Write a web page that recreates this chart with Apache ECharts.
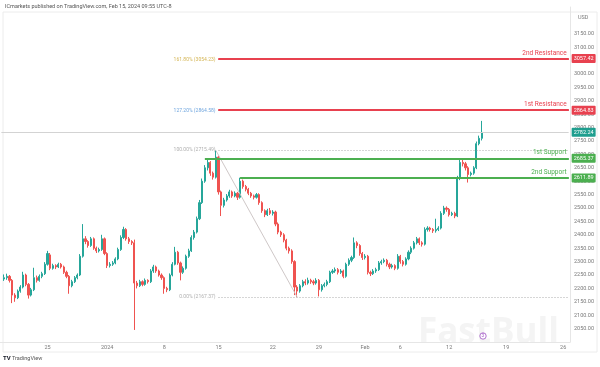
<!DOCTYPE html>
<html><head><meta charset="utf-8">
<script src="https://cdn.jsdelivr.net/npm/echarts@6/dist/echarts.min.js"></script>
<style>html,body{margin:0;padding:0;background:#fff}#c{width:600px;height:367px}</style>
</head><body><div id="c"></div>
<script>
const barCount = 210;
const firstBar = 1;
const opens = [
2235,2240,2245,2230,2175,2165,2190,2205,2250,2215,
2175,2195,2240,2230,2245,2255,2290,2325,2275,2285,
2280,2290,2280,2260,2245,2210,2225,2240,2250,2320,
2385,2375,2360,2385,2350,2340,2345,2385,2330,2285,
2290,2295,2310,2345,2390,2420,2385,2375,2370,2220,
2210,2225,2215,2230,2225,2265,2280,2265,2250,2240,
2200,2195,2250,2290,2335,2295,2260,2275,2320,2340,
2390,2410,2460,2520,2600,2650,2670,2630,2615,2690,
2560,2510,2530,2545,2560,2545,2555,2540,2600,2580,
2570,2555,2545,2540,2550,2520,2490,2475,2490,2480,
2485,2440,2410,2400,2380,2350,2340,2300,2205,2190,
2210,2225,2220,2230,2225,2220,2230,2195,2210,2215,
2225,2260,2265,2270,2260,2265,2245,2290,2305,2315,
2370,2360,2330,2315,2320,2260,2255,2265,2270,2295,
2300,2305,2290,2280,2285,2275,2320,2300,2290,2310,
2335,2350,2370,2385,2370,2365,2420,2425,2420,2415,
2420,2425,2480,2500,2495,2475,2480,2470,2610,2670,
2665,2650,2625,2630,2650,2740,2760];
const closes = [
2240,2245,2230,2175,2165,2190,2205,2250,2215,2175,
2195,2240,2230,2245,2255,2290,2330,2275,2285,2280,
2290,2280,2260,2245,2210,2225,2240,2250,2320,2385,
2375,2360,2385,2350,2340,2345,2385,2330,2285,2290,
2295,2310,2345,2390,2420,2385,2375,2370,2220,2210,
2225,2215,2230,2225,2265,2280,2265,2250,2240,2200,
2195,2250,2290,2335,2295,2260,2275,2320,2340,2390,
2410,2460,2520,2600,2650,2670,2630,2615,2690,2560,
2510,2530,2545,2560,2545,2555,2540,2600,2580,2570,
2555,2545,2540,2550,2520,2490,2475,2490,2480,2485,
2440,2410,2400,2380,2350,2340,2300,2205,2190,2210,
2225,2220,2230,2225,2220,2230,2195,2210,2215,2225,
2260,2265,2270,2260,2265,2245,2290,2305,2315,2370,
2360,2330,2315,2320,2260,2255,2265,2270,2295,2300,
2305,2290,2280,2285,2275,2320,2300,2290,2310,2335,
2350,2370,2385,2370,2365,2420,2425,2420,2415,2420,
2425,2480,2500,2495,2475,2480,2470,2610,2670,2665,
2650,2625,2630,2650,2740,2760,2782.24];
const lows = [
2228,2232,2222,2145,2150,2160,2184,2200,2208,2162,
2170,2190,2222,2225,2238,2250,2285,2268,2270,2272,
2276,2274,2254,2238,2180,2204,2220,2234,2246,2315,
2365,2352,2355,2344,2332,2334,2340,2324,2276,2278,
2284,2290,2305,2340,2384,2378,2366,2362,2045,2200,
2205,2208,2210,2218,2220,2258,2258,2244,2232,2180,
2186,2190,2245,2286,2288,2230,2254,2270,2314,2336,
2382,2405,2455,2515,2594,2640,2620,2606,2610,2550,
2470,2502,2524,2538,2538,2540,2530,2535,2572,2562,
2548,2538,2532,2535,2512,2482,2466,2470,2474,2472,
2432,2402,2392,2372,2342,2330,2292,2175,2167.37,2184,
2204,2212,2214,2217,2212,2214,2170,2188,2204,2208,
2220,2254,2258,2252,2254,2238,2240,2284,2298,2310,
2350,2322,2306,2308,2252,2246,2250,2258,2265,2288,
2294,2282,2272,2274,2268,2270,2292,2282,2285,2305,
2328,2345,2364,2362,2356,2360,2412,2412,2407,2408,
2414,2420,2474,2486,2468,2470,2462,2466,2604,2655,
2640,2595,2618,2624,2645,2734,2752];
const highs = [
2252,2255,2250,2235,2182,2196,2212,2262,2255,2220,
2202,2277,2248,2252,2262,2298,2340,2332,2292,2290,
2296,2295,2285,2266,2250,2232,2246,2256,2328,2440,
2395,2380,2392,2390,2356,2352,2400,2390,2335,2298,
2302,2316,2352,2398,2430,2425,2392,2380,2382,2228,
2232,2230,2237,2234,2272,2288,2285,2270,2256,2245,
2206,2256,2298,2355,2340,2300,2282,2326,2348,2398,
2418,2468,2530,2610,2660,2685,2675,2636,2715,2695,
2565,2538,2552,2568,2565,2562,2560,2613,2606,2586,
2575,2560,2550,2556,2555,2525,2495,2497,2500,2492,
2490,2446,2415,2406,2385,2356,2346,2305,2212,2216,
2232,2234,2240,2236,2232,2238,2235,2216,2222,2232,
2266,2272,2278,2276,2272,2270,2296,2312,2322,2390,
2376,2365,2336,2328,2325,2266,2272,2277,2302,2307,
2312,2310,2296,2292,2290,2328,2325,2306,2316,2342,
2357,2377,2392,2390,2376,2428,2432,2430,2425,2460,
2432,2488,2508,2506,2500,2486,2486,2620,2680,2682,
2672,2656,2636,2656,2748,2770,2825];

const xLabelIdx = [17, 39, 60, 80, 100, 117, 134, 147, 165, 186, 207];
const xLabelText = ['25', '2024', '8', '15', '22', '29', 'Feb', '6', '12', '19', '26'];

const resistanceNames = ['2nd Resistance', '1st Resistance'];
const resistanceValues = [3057.42, 2864.83];
const resistanceStart = [80, 80];
const supportNames = ['1st Support', '2nd Support'];
const supportValues = [2685.37, 2611.89];
const supportStart = [75, 88];
const fibRatios = ['161.80%', '127.20%', '100.00%', '0.00%'];
const fibValues = [3054.23, 2864.58, 2715.49, 2167.37];
const fibStart = 80;
const fibAnchorIdx = [79, 109];
const lastPrice = 2782.24;
const yTickMin = 2050, yTickMax = 3150;

const FONT = 'Roboto, "Open Sans", sans-serif';
const RED = '#e8414f', GREEN = '#4caf50', TEAL = '#1f9e8e';
const fibColors = ['#c9a32b', '#4a8fd6', '#9a9a9a', '#9a9a9a'];

const categories = Array.from({length: barCount}, (_, i) => String(i));
const candleData = categories.map((_, i) => {
  const k = i - firstBar;
  if (k < 0 || k >= opens.length) return '-';
  return [opens[k], closes[k], lows[k], highs[k]];
});
const lastIdx = barCount - 1;

const tag = (bg) => ({show: true, position: 'end', distance: 3, backgroundColor: bg, color: '#fff',
  fontSize: 5.5, fontFamily: FONT, padding: [2, 2, 1, 2], borderRadius: 1});

const ml = [];
ml.push([{coord: [0, lastPrice], lineStyle: {color: '#d3d3d3', width: 1, type: 'solid'},
  label: Object.assign(tag(TEAL), {formatter: lastPrice.toFixed(2)})}, {coord: [lastIdx, lastPrice]}]);
fibValues.forEach((v, j) => {
  ml.push([{coord: [fibStart, v], lineStyle: {color: fibColors[j], width: 1, type: j >= 2 ? [1, 2] : 'solid', opacity: 0.8},
    label: {show: true, position: 'start', distance: 3, formatter: fibRatios[j] + ' (' + v.toFixed(2) + ')',
      color: fibColors[j], fontSize: 5, fontFamily: FONT}}, {coord: [lastIdx, v]}]);
});
ml.push([{coord: [fibAnchorIdx[0], fibValues[2]], lineStyle: {color: '#cfc8c8', width: 1, type: 'solid'}, label: {show: false}},
  {coord: [fibAnchorIdx[1], fibValues[3]]}]);
resistanceValues.forEach((v, j) => {
  ml.push([{coord: [resistanceStart[j], v], lineStyle: {color: RED, width: 2, type: 'solid'},
    label: Object.assign(tag(RED), {formatter: v.toFixed(2)})}, {coord: [lastIdx, v]}]);
  ml.push([{coord: [resistanceStart[j], v], lineStyle: {color: RED, width: 2, type: 'solid'},
    label: {show: true, position: 'insideEndTop', distance: 2, formatter: resistanceNames[j], color: RED, fontSize: 6.5, fontFamily: FONT}},
    {coord: [lastIdx, v]}]);
});
supportValues.forEach((v, j) => {
  ml.push([{coord: [supportStart[j], v], lineStyle: {color: GREEN, width: 2, type: 'solid'},
    label: Object.assign(tag(GREEN), {formatter: v.toFixed(2)})}, {coord: [lastIdx, v]}]);
  ml.push([{coord: [supportStart[j], v], lineStyle: {color: GREEN, width: 2, type: 'solid'},
    label: {show: true, position: 'insideEndTop', distance: 2, formatter: supportNames[j], color: GREEN, fontSize: 6.5, fontFamily: FONT}},
    {coord: [lastIdx, v]}]);
});

const chart = echarts.init(document.getElementById('c'), null, {renderer: 'canvas'});
chart.setOption({
  animation: false,
  backgroundColor: '#ffffff',
  grid: {left: 0, right: 30, top: 7, height: 335},
  xAxis: {
    type: 'category', data: categories, boundaryGap: true,
    axisTick: {show: false},
    axisLine: {show: true, lineStyle: {color: '#e6e6e6'}},
    splitLine: {show: false},
    axisLabel: {
      interval: (i) => xLabelIdx.includes(i),
      formatter: (v, i) => { const k = xLabelIdx.indexOf(i); return k >= 0 ? xLabelText[k] : ''; },
      fontSize: 5.5, color: '#7a7a7a', fontFamily: FONT, margin: 3
    }
  },
  yAxis: {
    type: 'value', position: 'right', min: 2000, max: 3250, interval: 50,
    splitLine: {show: false},
    axisTick: {show: false},
    axisLine: {show: true, lineStyle: {color: '#e6e6e6'}},
    axisLabel: {
      formatter: (v) => (v >= yTickMin && v <= yTickMax) ? v.toFixed(2) : '',
      fontSize: 5.5, color: '#7a7a7a', fontFamily: FONT, margin: 4
    }
  },
  series: [{
    type: 'candlestick',
    data: candleData,
    barWidth: 1.7,
    itemStyle: {color: '#26a69a', color0: '#ef5350', borderColor: '#26a69a', borderColor0: '#ef5350', borderWidth: 1},
    markLine: {symbol: ['none', 'none'], silent: true, animation: false, data: ml}
  }],
  graphic: [
    {type: 'rect', z: -1, shape: {x: 3, y: 12, width: 594, height: 340}, style: {fill: 'none', stroke: '#ececec', lineWidth: 1}},
    {type: 'text', left: 5, top: 4, style: {text: 'ICmarkets published on TradingView.com, Feb 15, 2024 09:55 UTC-8', fontSize: 5.5, fill: '#555', fontFamily: FONT}},
    {type: 'text', left: 578, top: 15, style: {text: 'USD', fontSize: 5.5, fill: '#7a7a7a', fontFamily: FONT}},
    {type: 'text', z: -2, left: 418, top: 316, style: {text: 'FastBull', fontSize: 35, fontWeight: 'bold', fill: '#f4f4f4', fontFamily: '"Open Sans", sans-serif'}},
    {type: 'circle', shape: {cx: 483, cy: 336, r: 3.2}, style: {fill: '#fff', stroke: '#9c4fc2', lineWidth: 0.8}},
    {type: 'text', left: 481.6, top: 333.3, style: {text: '3', fontSize: 4.5, fill: '#9c4fc2', fontFamily: FONT}},
    {type: 'text', left: 3, top: 355, style: {text: 'TV', fontSize: 6, fontWeight: 'bold', fill: '#131722', fontFamily: FONT}},
    {type: 'text', left: 12, top: 355.5, style: {text: 'TradingView', fontSize: 5.5, fill: '#555', fontFamily: FONT}}
  ]
});
</script>
</body></html>
